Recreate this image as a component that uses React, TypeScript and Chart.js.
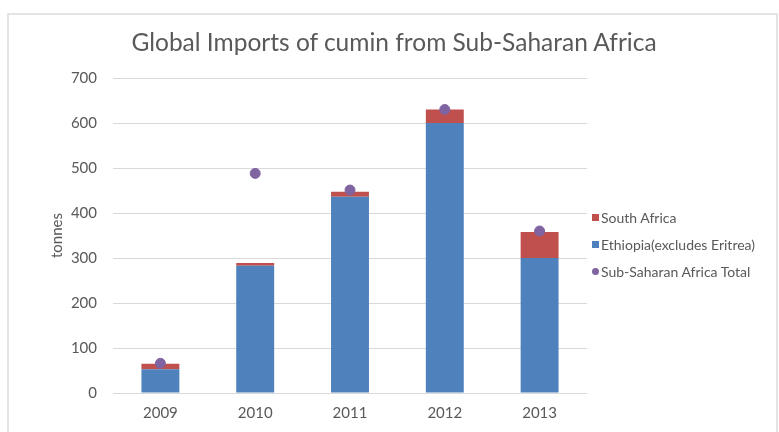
import React, { useEffect, useRef } from "react";
import { Chart, registerables } from "chart.js";

Chart.register(...registerables);

const years = ["2009", "2010", "2011", "2012", "2013"];
const ethiopia = [53, 283, 436, 600, 300];
const southAfrica = [12, 6, 11, 30, 58];
const total = [66, 488, 451, 630, 360];
const yTicks = [0, 100, 200, 300, 400, 500, 600, 700];

const TITLE = "Global Imports of cumin from Sub-Saharan Africa";
const BLUE = "#4f81bd";
const RED = "#c0504d";
const PURPLE = "#8064a2";
const TEXT = "#595959";
const FONT = "Lato, 'Open Sans', sans-serif";

const legendItems = [
  { label: "South Africa", color: RED, shape: "square" },
  { label: "Ethiopia(excludes Eritrea)", color: BLUE, shape: "square" },
  { label: "Sub-Saharan Africa Total", color: PURPLE, shape: "circle" },
];

export default function App() {
  const ref = useRef<HTMLCanvasElement | null>(null);

  useEffect(() => {
    if (!ref.current) return;
    const chart = new Chart(ref.current, {
      type: "bar",
      data: {
        labels: years,
        datasets: [
          {
            type: "line",
            label: "Sub-Saharan Africa Total",
            data: total,
            showLine: false,
            pointRadius: 5,
            pointHoverRadius: 5,
            pointBackgroundColor: PURPLE,
            pointBorderColor: PURPLE,
            borderColor: PURPLE,
            backgroundColor: PURPLE,
            stack: "total",
            order: 0,
          } as any,
          {
            label: "Ethiopia(excludes Eritrea)",
            data: ethiopia,
            backgroundColor: BLUE,
            stack: "s",
            barPercentage: 0.4,
            categoryPercentage: 1,
            order: 1,
          },
          {
            label: "South Africa",
            data: southAfrica,
            backgroundColor: RED,
            stack: "s",
            barPercentage: 0.4,
            categoryPercentage: 1,
            order: 2,
          },
        ],
      },
      options: {
        responsive: false,
        animation: false,
        layout: { padding: { left: 44, right: 192, top: 78, bottom: 0 } },
        plugins: {
          legend: { display: false },
          tooltip: { enabled: false },
          title: { display: false },
        },
        scales: {
          x: {
            stacked: true,
            grid: { display: false, drawTicks: false },
            border: { display: false },
            ticks: { color: TEXT, font: { family: FONT, size: 15 }, padding: 11 },
            afterFit: (axis: any) => {
              axis.height = 39;
            },
          },
          y: {
            stacked: true,
            min: yTicks[0],
            max: yTicks[yTicks.length - 1],
            afterBuildTicks: (axis: any) => {
              axis.ticks = yTicks.map((v) => ({ value: v }));
            },
            afterFit: (axis: any) => {
              axis.width = 69;
            },
            grid: { color: "#d9d9d9", drawTicks: false, lineWidth: 1 },
            border: { display: false },
            ticks: { color: TEXT, font: { family: FONT, size: 15 }, padding: 16 },
            title: {
              display: true,
              text: "tonnes",
              color: TEXT,
              font: { family: FONT, size: 15 },
              padding: { top: 4, bottom: 4 },
            },
          },
        },
      },
    });
    return () => chart.destroy();
  }, []);

  return (
    <div
      style={{
        position: "absolute",
        left: 0,
        top: 0,
        width: 779,
        height: 432,
        overflow: "hidden",
        background: "#fff",
      }}
    >
      <div
        style={{
          position: "absolute",
          left: 7,
          top: 13,
          width: 771,
          height: 440,
          border: "2px solid #e4e4e4",
          boxSizing: "border-box",
        }}
      />
      <canvas
        ref={ref}
        width={779}
        height={432}
        style={{ position: "absolute", left: 0, top: 0, width: 779, height: 432 }}
      />
      <div
        style={{
          position: "absolute",
          left: 0,
          top: 27,
          width: 788,
          lineHeight: "30px",
          textAlign: "center",
          fontFamily: FONT,
          fontSize: 24.5,
          color: TEXT,
          whiteSpace: "nowrap",
        }}
      >
        {TITLE}
      </div>
      <div style={{ position: "absolute", left: 592, top: 208 }}>
        {legendItems.map((it) => (
          <div
            key={it.label}
            style={{
              display: "flex",
              alignItems: "center",
              height: 18,
              marginBottom: 9,
              fontFamily: FONT,
              fontSize: 14,
              color: TEXT,
              whiteSpace: "nowrap",
            }}
          >
            <span
              style={{
                display: "inline-block",
                width: 7,
                height: 7,
                background: it.color,
                borderRadius: it.shape === "circle" ? "50%" : 0,
                marginRight: 2,
              }}
            />
            {it.label}
          </div>
        ))}
      </div>
    </div>
  );
}
